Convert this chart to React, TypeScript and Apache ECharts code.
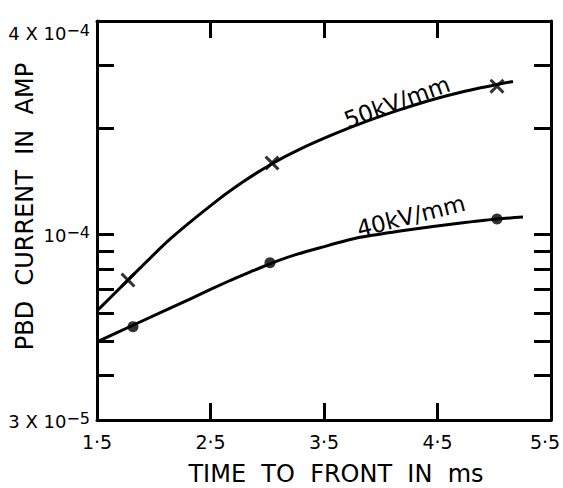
import { useEffect, useRef } from "react";
import * as echarts from "echarts";

// Tick values (log axis)
const yTickValues = [3e-5, 4e-5, 5e-5, 6e-5, 7e-5, 8e-5, 9e-5, 1e-4, 2e-4, 3e-4, 4e-4];
const yLabelValues = [3e-5, 1e-4, 4e-4];
const xTopTickValues = [2.5, 3.5, 4.5];

// 50 kV/mm fitted curve
const curve50X = [1.5, 1.773, 2.143, 2.566, 2.804, 3.042, 3.289, 3.597, 3.879, 4.17, 4.46, 4.742, 5.024, 5.165];
const curve50Y = [
  6.09e-5, 7.44e-5, 9.7e-5, 1.252e-4, 1.42e-4, 1.584e-4, 1.741e-4, 1.924e-4, 2.087e-4, 2.249e-4, 2.403e-4,
  2.536e-4, 2.649e-4, 2.701e-4,
];
// 50 kV/mm measured points
const points50X = [1.773, 3.042, 5.024];
const points50Y = [7.44e-5, 1.591e-4, 2.62e-4];

// 40 kV/mm fitted curve
const curve40X = [1.5, 1.817, 2.319, 2.672, 2.848, 3.024, 3.244, 3.465, 3.817, 4.17, 4.46, 4.742, 5.024, 5.253];
const curve40Y = [
  4.98e-5, 5.55e-5, 6.58e-5, 7.42e-5, 7.84e-5, 8.27e-5, 8.76e-5, 9.18e-5, 9.82e-5, 1.023e-4, 1.054e-4, 1.081e-4,
  1.106e-4, 1.12e-4,
];
// 40 kV/mm measured points
const points40X = [1.817, 3.024, 5.024];
const points40Y = [5.5e-5, 8.33e-5, 1.106e-4];

const zip = (xs: number[], ys: number[]) => xs.map((x, i) => [x, ys[i]]);

const FONT = "DejaVu Sans";
const INK = "#000";

const crossPath =
  "path://M2,0 L7,5 L12,0 L14,2 L9,7 L14,12 L12,14 L7,9 L2,14 L0,12 L5,7 L0,2 Z";

export default function App() {
  const ref = useRef<HTMLDivElement>(null);
  useEffect(() => {
    if (!ref.current) return;
    const chart = echarts.init(ref.current, null, { renderer: "svg" });
    const yLabel = (v: number) => {
      if (Math.abs(v - 4e-4) < 1e-9) return "{e| }\n{m|4 X 10}{s|\u22124}";
      if (Math.abs(v - 1e-4) < 1e-9) return "{m|10}{s|\u22124}";
      if (Math.abs(v - 3e-5) < 1e-10) return "{m|3 X 10}{s|\u22125}";
      return "";
    };
    const xLabel = (v: number) => {
      const t = v.toFixed(1).replace(".", "\u00B7");
      return v >= 5.49 ? "{r|" + t + "}" : t;
    };
    const commonY = {
      type: "log" as const,
      logBase: 10,
      min: 3e-5,
      max: 4e-4,
      splitLine: { show: false },
      minorTick: { show: false },
      axisLine: { show: true, lineStyle: { color: INK, width: 3 } },
    };
    chart.setOption({
      animation: false,
      backgroundColor: "#fff",
      grid: {
        left: 97,
        right: 12,
        top: 21,
        bottom: 68,
        containLabel: false,
        outerBoundsMode: "none",
      },
      xAxis: [
        {
          type: "value",
          position: "bottom",
          min: 1.5,
          max: 5.5,
          interval: 1,
          splitLine: { show: false },
          axisLine: { show: true, lineStyle: { color: INK, width: 3 } },
          axisTick: { show: true, inside: true, length: 17, lineStyle: { color: INK, width: 3 } },
          axisLabel: {
            margin: 12,
            fontFamily: FONT,
            fontSize: 19,
            color: INK,
            formatter: xLabel,
            rich: {
              r: { fontFamily: FONT, fontSize: 19, color: INK, padding: [0, 12, 0, 0] },
            },
          },
          name: "TIME  TO  FRONT  IN  ms",
          nameLocation: "middle",
          nameGap: 42,
          nameMoveOverlap: false,
          nameTextStyle: { fontFamily: FONT, fontSize: 24, color: INK, padding: [0, 0, 0, 24] },
        },
        {
          type: "value",
          position: "top",
          min: 1.5,
          max: 5.5,
          splitLine: { show: false },
          axisLine: { show: true, lineStyle: { color: INK, width: 3 } },
          axisTick: {
            show: true,
            inside: true,
            length: 17,
            customValues: xTopTickValues,
            lineStyle: { color: INK, width: 3 },
          },
          axisLabel: { show: false },
        },
      ],
      yAxis: [
        {
          ...commonY,
          position: "left",
          axisTick: {
            show: true,
            inside: true,
            length: 17,
            customValues: yTickValues,
            lineStyle: { color: INK, width: 3 },
          },
          axisLabel: {
            customValues: yLabelValues,
            margin: 7,
            fontFamily: FONT,
            fontSize: 18,
            color: INK,
            formatter: yLabel,
            rich: {
              e: { fontSize: 4, lineHeight: 22 },
              m: { fontFamily: FONT, fontSize: 18, color: INK, lineHeight: 20, verticalAlign: "bottom" },
              s: {
                fontFamily: FONT,
                fontSize: 16,
                color: INK,
                lineHeight: 16,
                padding: [0, 0, 10, 0],
                verticalAlign: "top",
              },
            },
          },
          name: "PBD  CURRENT  IN  AMP",
          nameLocation: "middle",
          nameGap: 60,
          nameMoveOverlap: false,
          nameTextStyle: { fontFamily: FONT, fontSize: 24, color: INK, padding: [0, 0, 0, 28] },
        },
        {
          ...commonY,
          position: "right",
          axisTick: {
            show: true,
            inside: true,
            length: 17,
            customValues: yTickValues,
            lineStyle: { color: INK, width: 3 },
          },
          axisLabel: { show: false },
        },
      ],
      graphic: [
        {
          type: "text",
          x: 397,
          y: 102,
          rotation: (20 * Math.PI) / 180,
          style: {
            text: "50kV/mm",
            fontFamily: FONT,
            fontSize: 23,
            fill: INK,
            align: "center",
            verticalAlign: "middle",
          },
        },
        {
          type: "text",
          x: 411,
          y: 216,
          rotation: (14 * Math.PI) / 180,
          style: {
            text: "40kV/mm",
            fontFamily: FONT,
            fontSize: 23,
            fill: INK,
            align: "center",
            verticalAlign: "middle",
          },
        },
      ],
      series: [
        {
          name: "50 kV/mm curve",
          type: "line",
          xAxisIndex: 0,
          yAxisIndex: 0,
          data: zip(curve50X, curve50Y),
          smooth: 0.25,
          showSymbol: false,
          lineStyle: { color: INK, width: 3 },
        },
        {
          name: "40 kV/mm curve",
          type: "line",
          xAxisIndex: 0,
          yAxisIndex: 0,
          data: zip(curve40X, curve40Y),
          smooth: 0.25,
          showSymbol: false,
          lineStyle: { color: INK, width: 3 },
        },
        {
          name: "50 kV/mm",
          type: "scatter",
          xAxisIndex: 0,
          yAxisIndex: 0,
          data: zip(points50X, points50Y),
          symbol: crossPath,
          symbolSize: 15,
          itemStyle: { color: INK },
        },
        {
          name: "40 kV/mm",
          type: "scatter",
          xAxisIndex: 0,
          yAxisIndex: 0,
          data: zip(points40X, points40Y),
          symbol: "circle",
          symbolSize: 11,
          itemStyle: { color: INK },
        },
      ],
    });
    return () => chart.dispose();
  }, []);
  return (
    <div
      ref={ref}
      style={{ position: "fixed", left: 0, top: 0, width: 563, height: 488, background: "#fff" }}
    />
  );
}
